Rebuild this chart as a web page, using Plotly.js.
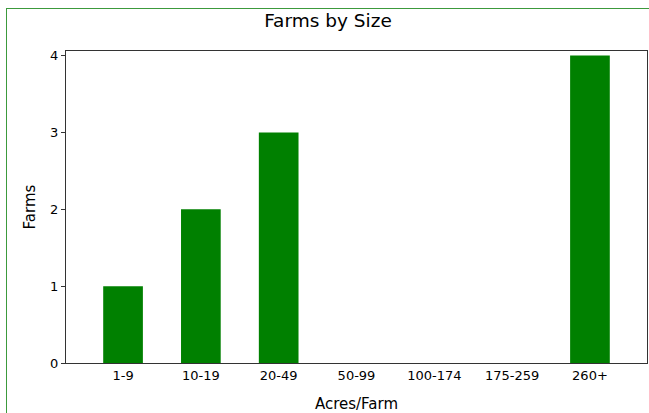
<!DOCTYPE html>
<html>
<head>
<meta charset="utf-8">
<script src="https://cdn.plot.ly/plotly-3.0.1.min.js"></script>
<style>
html, body { margin: 0; padding: 0; background: #fff; overflow: hidden; }
#frame { position: absolute; left: 6px; top: 8px; width: 700px; height: 500px;
         border-top: 1px solid #3c9a3c; border-left: 1px solid #3c9a3c; }
#chart { position: absolute; left: 0; top: 0; width: 642px; height: 404px; }
</style>
</head>
<body>
<div id="frame"><div id="chart"></div></div>
<script>
const categories = ["1-9", "10-19", "20-49", "50-99", "100-174", "175-259", "260+"];
const farms = [1, 2, 3, 0, 0, 0, 4];

const fontFam = "DejaVu Sans, sans-serif";
Plotly.newPlot("chart", [{
  type: "bar",
  x: categories,
  y: farms,
  marker: { color: "#008000" },
  width: 0.51,
  hoverinfo: "x+y"
}], {
  width: 642, height: 404,
  margin: { l: 59, r: 2, t: 42, b: 50 },
  paper_bgcolor: "rgba(0,0,0,0)",
  plot_bgcolor: "#fff",
  font: { family: fontFam, size: 13, color: "#000" },
  title: { text: "Farms by Size", font: { family: fontFam, size: 18.5, color: "#000" },
           x: 0.5, xanchor: "center", y: 0.972, yref: "container", yanchor: "middle" },
  xaxis: {
    type: "category", range: [-0.733, 6.733],
    showline: true, linecolor: "#333", linewidth: 1, mirror: true,
    ticks: "", showgrid: false, zeroline: false,
    tickfont: { family: fontFam, size: 13 },
    title: { text: "Acres/Farm", font: { family: fontFam, size: 15 }, standoff: 20 }
  },
  yaxis: {
    range: [0, 4.06], dtick: 1,
    showline: true, linecolor: "#333", linewidth: 1, mirror: true,
    ticks: "outside", ticklen: 4, tickcolor: "#333",
    showgrid: false, zeroline: false,
    tickfont: { family: fontFam, size: 13 },
    title: { text: "Farms", font: { family: fontFam, size: 15 }, standoff: 10 }
  },
  showlegend: false
}, { displayModeBar: false, staticPlot: true });
</script>
</body>
</html>
